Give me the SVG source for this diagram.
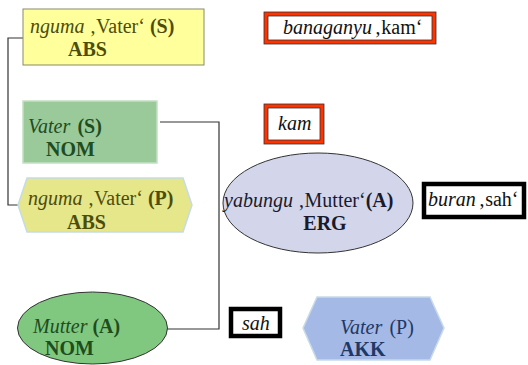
<svg xmlns="http://www.w3.org/2000/svg" width="528" height="365" viewBox="0 0 528 365">
<style>
text{font-family:"Liberation Serif","Times New Roman",serif;font-size:20px}
.i{font-style:italic}
.b{font-weight:bold}
.conn{fill:none;stroke:#333;stroke-width:1.2}
.olive{fill:#4d4d0a}
.dg{fill:#1e4d1e}
.dk{fill:#1a1a2e}
.nv{fill:#1f3864}
.bk{fill:#111}
.red{fill:#fff;stroke:#ff3300;stroke-width:4}
.thin{fill:none;stroke:#333;stroke-width:0.8}
.blk{fill:#fff;stroke:#000;stroke-width:4.5}
</style>
<rect width="528" height="365" fill="#fff"/>
<g id="connectors">
<path class="conn" d="M23,38 H8 V205 H19"/>
<path class="conn" d="M160,122 H219 V329 H166"/>
</g>
<g id="n-nguma-S">
<rect x="23" y="9" width="181" height="56" fill="#ffff9c" stroke="#8a8a6a" stroke-width="1"/>
<text x="30" y="33" class="olive"><tspan class="i">nguma</tspan><tspan x="89.4">‚Vater‘ </tspan><tspan class="b">(S)</tspan></text>
<text x="68" y="56" class="olive b">ABS</text>
</g>
<g id="n-banaganyu">
<rect x="266" y="14" width="168" height="28" class="red"/>
<rect x="264" y="12" width="172" height="32" class="thin"/>
<rect x="268" y="16" width="164" height="24" class="thin"/>
<text x="283" y="34" class="bk"><tspan class="i">banaganyu</tspan><tspan x="374.6">‚kam‘</tspan></text>
</g>
<g id="n-vater-S">
<rect x="23" y="101" width="134" height="62" fill="#9ac99a" stroke="#c4e0c4" stroke-width="1.5"/>
<text x="28" y="133" class="dg"><tspan class="i">Vater</tspan><tspan x="77.4" class="b">(S)</tspan></text>
<text x="46" y="156" class="dg b">NOM</text>
</g>
<g id="n-kam">
<rect x="266" y="106" width="56" height="36" class="red"/>
<rect x="264" y="104" width="60" height="40" class="thin"/>
<rect x="268" y="108" width="52" height="32" class="thin"/>
<text x="278" y="130" class="bk i">kam</text>
</g>
<g id="n-nguma-P">
<polygon points="18,205 27,178 183,178 192,205 183,232 27,232" fill="#e6e68a" stroke="#c6dce4" stroke-width="1.5"/>
<text x="28" y="205" class="olive"><tspan class="i">nguma</tspan><tspan x="87.4">‚Vater‘ </tspan><tspan class="b">(P)</tspan></text>
<text x="67" y="229" class="olive b">ABS</text>
</g>
<g id="n-yabungu">
<ellipse cx="318" cy="203" rx="95" ry="50" fill="#d3d6ea" stroke="#333" stroke-width="1"/>
<text x="224" y="207" class="dk"><tspan class="i">yabungu</tspan><tspan x="297.9">‚Mutter‘</tspan><tspan class="b">(A)</tspan></text>
<text x="325" y="230" class="dk b" text-anchor="middle">ERG</text>
</g>
<g id="n-buran">
<rect x="424" y="184" width="100" height="33" class="blk"/>
<text x="428" y="206" class="bk"><tspan class="i">buran</tspan><tspan x="478.5">‚sah‘</tspan></text>
</g>
<g id="n-mutter-A">
<ellipse cx="92.5" cy="328" rx="75" ry="36" fill="#80c880" stroke="#333" stroke-width="1"/>
<text x="33" y="333" class="dg"><tspan class="i">Mutter</tspan><tspan x="92.4" class="b">(A)</tspan></text>
<text x="45" y="355" class="dg b">NOM</text>
</g>
<g id="n-sah">
<rect x="231" y="309" width="49" height="27" class="blk" stroke-width="4"/>
<text x="242" y="330" class="bk i">sah</text>
</g>
<g id="n-vater-P">
<polygon points="303,328 317,297 430,297 444,328 430,360 317,360" fill="#a4b9e6" stroke="#c8dbe6" stroke-width="1.5"/>
<text x="340" y="334" class="nv"><tspan class="i">Vater</tspan><tspan x="389.4">(P)</tspan></text>
<text x="340" y="356" class="nv b">AKK</text>
</g>
</svg>
